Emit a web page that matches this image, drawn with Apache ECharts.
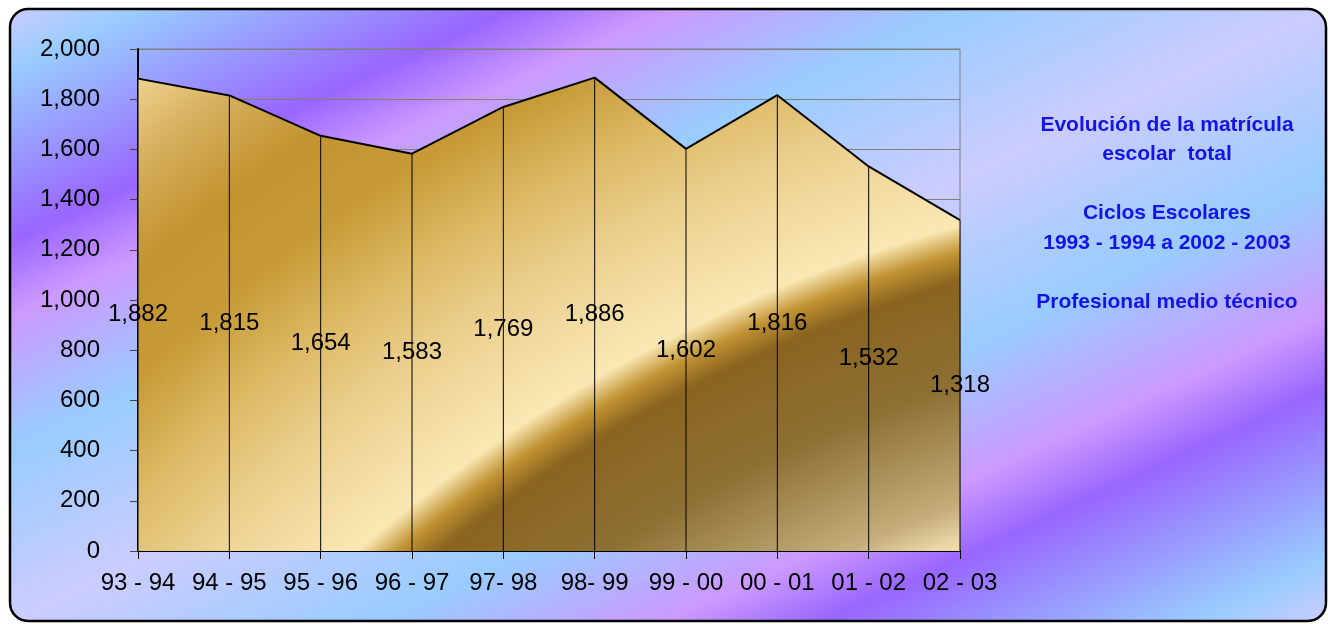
<!DOCTYPE html>
<html>
<head>
<meta charset="utf-8">
<script src="https://cdn.jsdelivr.net/npm/echarts@6/dist/echarts.min.js"></script>
<style>
html,body{margin:0;padding:0;background:#fff;}
#chart{width:1328px;height:624px;}
</style>
</head>
<body>
<div id="chart"></div>
<script>
var categories = ['93 - 94','94 - 95','95 - 96','96 - 97','97- 98','98- 99','99 - 00','00 - 01','01 - 02','02 - 03'];
var enrolment = [1882, 1815, 1654, 1583, 1769, 1886, 1602, 1816, 1532, 1318];
var titleLines = ['Evolución de la matrícula', 'escolar  total', '', 'Ciclos Escolares', '1993 - 1994 a 2002 - 2003', '', 'Profesional medio técnico'];

function fmt(v){ return Number(v).toLocaleString('en-US'); }

var chart = echarts.init(document.getElementById('chart'), null, {renderer:'canvas'});

// background: mirrored diagonal gradient
var bgStops = [
  [0.00,'#ccccff'],[0.05,'#99ccff'],[0.19,'#9966ff'],[0.25,'#cc99ff'],[0.36,'#99ccff'],[0.50,'#ccccff'],
  [0.64,'#99ccff'],[0.75,'#cc99ff'],[0.81,'#9966ff'],[0.95,'#99ccff'],[1.00,'#ccccff']
];
var bgX = 10, bgY = 9, bgW = 1316, bgH = 612;
var kk = 2/(bgH/bgW + bgW/bgH);
var bgGrad = {type:'linear', global:true, x:bgX, y:bgY, x2:bgX + kk*bgH, y2:bgY + kk*bgW,
  colorStops: bgStops.map(function(s){return {offset:s[0], color:s[1]};})};

// area: golden radial gradient (curved bright stripe)
var goldStops = [
  [1200,'#f8e6b8'],[1225,'#e8d4a4'],[1255,'#c6ae7c'],[1300,'#ae9660'],[1370,'#8e7034'],[1470,'#8a6420'],
  [1497,'#c09232'],[1524,'#fae8b4'],[1580,'#f3dca2'],[1640,'#eace8c'],[1720,'#dcb862'],
  [1800,'#c69a36'],[1880,'#c29430'],[1960,'#d6ae5c'],[2040,'#f2d898']
];
var R = 2040;
var goldGrad = {type:'radial', global:true, x:1365, y:1694, r:R,
  colorStops: goldStops.map(function(s){return {offset:s[0]/R, color:s[1]};})};

var option = {
  animation:false,
  textStyle:{fontFamily:'Liberation Sans, Arial, sans-serif'},
  graphic:[{
    type:'rect', z:-100, silent:true,
    shape:{x:bgX, y:bgY, width:bgW, height:bgH, r:18},
    style:{fill:bgGrad, stroke:'#000', lineWidth:2.5}
  }],
  title:{
    text: titleLines.join('\n'),
    left:1167, top:110, textAlign:'center', padding:0,
    textStyle:{fontFamily:'Liberation Sans, Arial, sans-serif', fontSize:21, fontWeight:'bold', color:'#1414e6', lineHeight:29.5}
  },
  grid:{left:138, right:368, top:49, bottom:73, show:true, borderColor:'#808080', borderWidth:1, backgroundColor:'transparent'},
  xAxis:{
    type:'category', data:categories, boundaryGap:false,
    axisLine:{show:true, lineStyle:{color:'#000', width:2}},
    axisTick:{show:true, length:8, inside:false, lineStyle:{color:'#000', width:1}},
    axisLabel:{color:'#000', fontSize:24, margin:20, interval:0},
    splitLine:{show:false}
  },
  yAxis:{
    type:'value', min:0, max:2000, interval:200,
    axisLine:{show:true, lineStyle:{color:'#000', width:2}},
    axisTick:{show:true, length:8, lineStyle:{color:'#444', width:1}},
    axisLabel:{color:'#000', fontSize:24, margin:38, formatter:function(v){return fmt(v);}},
    splitLine:{show:true, lineStyle:{color:'#808080', width:1}}
  },
  series:[
    {
      type:'line', data:enrolment, symbol:'none', z:2,
      lineStyle:{color:'#000', width:2},
      areaStyle:{color:goldGrad, opacity:1}
    },
    {
      type:'bar', data:enrolment, barWidth:1, z:3,
      itemStyle:{color:'#000'},
      label:{show:true, position:'inside', color:'#000', fontSize:24, fontFamily:'Liberation Sans, Arial, sans-serif',
        formatter:function(p){return fmt(p.value);}}
    }
  ]
};
chart.setOption(option);
</script>
</body>
</html>
